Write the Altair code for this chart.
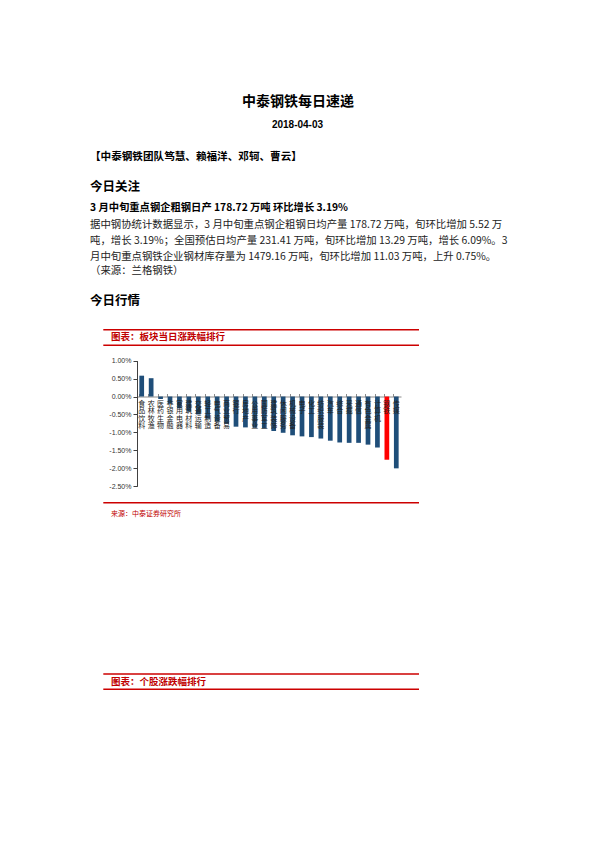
import altair as alt
import pandas as pd

# ---------------- data ----------------
sectors = ["食品饮料", "农林牧渔", "医药生物", "非银金融", "家用电器", "建筑材料", "交通运输",
           "轻工制造", "电气设备", "商业贸易", "银行", "房地产", "公用事业", "国防军工",
           "建筑装饰", "休闲服务", "机械设备", "电子", "化工", "纺织服装", "汽车", "综合",
           "采掘", "通信", "有色金属", "计算机", "钢铁", "传媒"]
changes_pct = [0.58, 0.51, -0.07, -0.20, -0.33, -0.42, -0.50,
               -0.62, -0.70, -0.76, -0.84, -0.86, -0.87, -0.89,
               -0.96, -1.01, -1.08, -1.11, -1.13, -1.17, -1.23, -1.28,
               -1.29, -1.29, -1.34, -1.42, -1.76, -2.00]
highlight = "钢铁"
y_ticks_pct = [1.0, 0.5, 0.0, -0.5, -1.0, -1.5, -2.0, -2.5]

doc_title = "中泰钢铁每日速递"
doc_date = "2018-04-03"
team_line = "【中泰钢铁团队笃慧、赖福洋、邓轲、曹云】"
sec1 = "今日关注"
headline = "3 月中旬重点钢企粗钢日产 178.72 万吨 环比增长 3.19%"
body_lines = [
    "据中钢协统计数据显示，3 月中旬重点钢企粗钢日均产量 178.72 万吨，旬环比增加 5.52 万",
    "吨，增长 3.19%；全国预估日均产量 231.41 万吨，旬环比增加 13.29 万吨，增长 6.09%。3",
    "月中旬重点钢铁企业钢材库存量为 1479.16 万吨，旬环比增加 11.03 万吨，上升 0.75%。",
    "（来源：兰格钢铁）",
]
sec2 = "今日行情"
fig1_title = "图表：板块当日涨跌幅排行"
fig1_source = "来源：中泰证券研究所"
fig2_title = "图表：个股涨跌幅排行"

df = pd.DataFrame({
    "sector": sectors,
    "change": [c / 100 for c in changes_pct],
})
df["label"] = df["sector"].apply(lambda s: "\n".join(list(s)))
y_ticks = [t / 100 for t in y_ticks_pct]

CJK = "Noto Sans CJK SC"
RED = "#C00000"
BLUE = "#1F4E79"


def txt(s, x, y, size, weight="normal", color="#000000", align="left", font=CJK):
    return alt.Chart(alt.Data(values=[{}])).mark_text(
        text=s, align=align, baseline="middle", fontSize=size,
        fontWeight=weight, color=color, font=font
    ).encode(x=alt.value(x), y=alt.value(y))


def hrule(x1, x2, y, color="#CC0000", width=1.4):
    return alt.Chart(alt.Data(values=[{}])).mark_rule(
        color=color, strokeWidth=width
    ).encode(x=alt.value(x1), x2=alt.value(x2), y=alt.value(y))


x_scale = alt.Scale(range=[129, 393], paddingInner=0.5, paddingOuter=0.25)
y_scale = alt.Scale(domain=[-0.025, 0.01], range=[478.3, 352.6], nice=False, zero=False)

x_axis = alt.Axis(orient="top", offset=-388.5, labels=False, title=None,
                  ticks=True, tickSize=3, tickColor="#8C8C8C",
                  domainColor="#8C8C8C", bandPosition=0, grid=False)
y_axis = alt.Axis(values=y_ticks, format=".2%", offset=-129, title=None,
                  grid=False, tickSize=4, labelPadding=2, labelFontSize=7,
                  labelFont="Liberation Sans", labelColor="#333333",
                  domainColor="#404040", tickColor="#404040",
                  labelExpr="replace(datum.label, '\u2212', '-')")

bars = alt.Chart(df).mark_bar().encode(
    x=alt.X("sector:N", sort=sectors, scale=x_scale, axis=x_axis),
    y=alt.Y("change:Q", scale=y_scale, axis=y_axis),
    color=alt.condition(alt.datum.sector == highlight, alt.value("#FF0000"), alt.value(BLUE)),
)

labels = alt.Chart(df).mark_text(
    baseline="top", align="center", fontSize=7, lineHeight=7.6, dy=3,
    lineBreak="\n", font=CJK, color="#222222"
).encode(
    x=alt.X("sector:N", sort=sectors, scale=x_scale, axis=x_axis),
    y=alt.YDatum(0, type="quantitative", scale=y_scale, axis=y_axis),
    text="label:N",
)

layers = [
    txt(doc_title, 290, 93.7, 14, "bold", align="center"),
    txt(doc_date, 289.5, 117, 10, "bold", align="center", font="Liberation Sans"),
    txt(team_line, 82, 148.7, 10.6, "bold"),
    txt(sec1, 82, 178.7, 12.5, "bold"),
    txt(headline, 82, 200, 10.3, "bold"),
]
for line, yy in zip(body_lines, [217, 233, 248.5, 263]):
    layers.append(txt(line, 82, yy, 10.4, color="#222222"))
layers += [
    txt(sec2, 82, 292.7, 12.5, "bold"),
    hrule(95.3, 411, 321.7),
    txt(fig1_title, 103, 329.2, 9.5, "bold", color=RED),
    hrule(95.3, 411, 337.2),
    bars,
    labels,
    hrule(95.3, 411, 494.7),
    txt(fig1_source, 103, 506, 7, color=RED),
    hrule(95.3, 411, 666),
    txt(fig2_title, 103, 673.5, 9.5, "bold", color=RED),
    hrule(95.3, 411, 681.3),
]

chart = alt.layer(*layers).properties(
    width=579, height=826, autosize="none", padding=0
).configure_view(stroke=None)

chart.save("out.html", embed_options={"renderer": "svg", "actions": False})
